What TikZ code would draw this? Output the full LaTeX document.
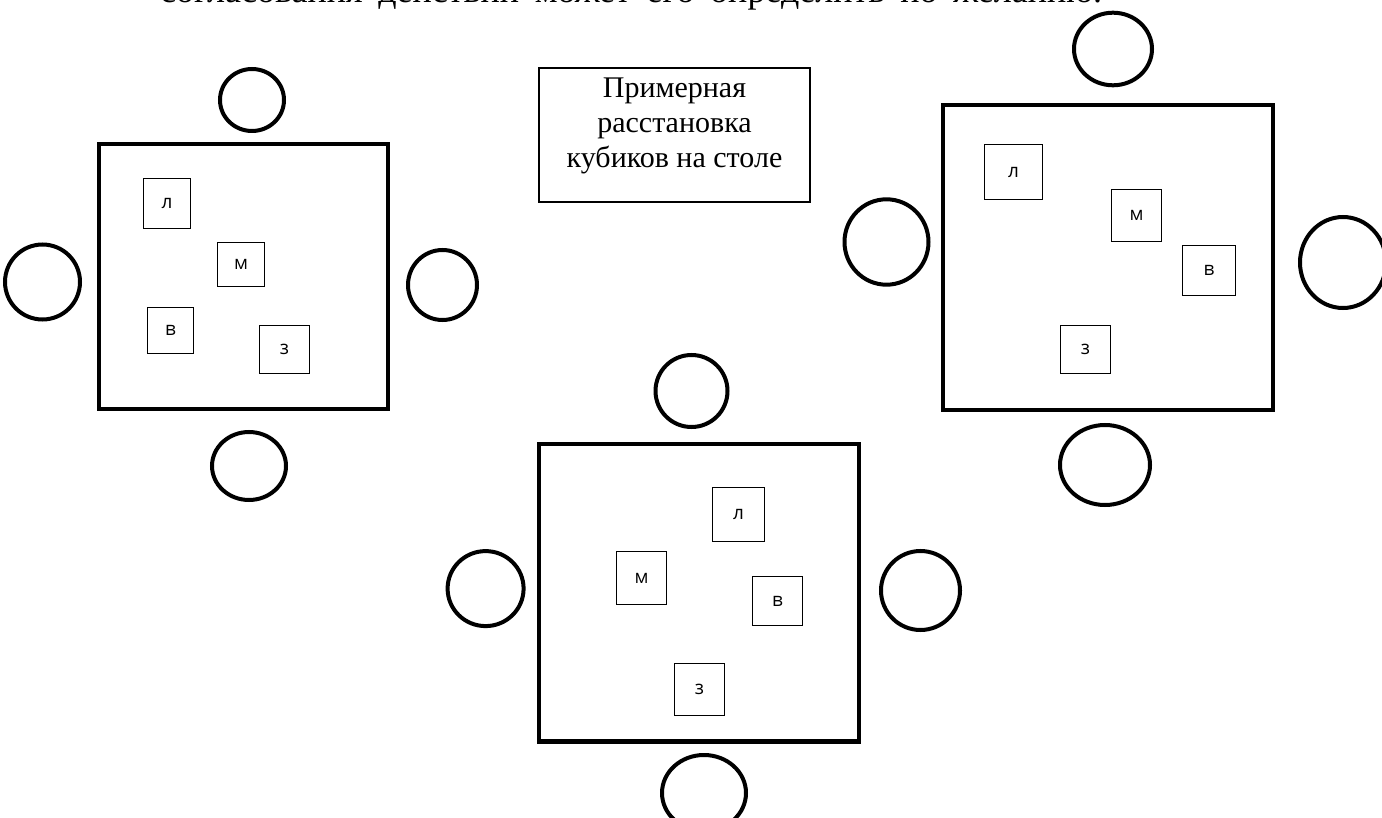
\documentclass[tikz,border=0pt]{standalone}
\usepackage{fontspec}
\setmainfont{Liberation Serif}
\newfontfamily\cubefont{Open Sans}
\usetikzlibrary{shapes.geometric}

\begin{document}
\begin{tikzpicture}[x=1pt, y=-1pt,
    table/.style = {draw, line width=4.5pt, inner sep=0pt},
    cube/.style = {draw, line width=1.2pt, inner sep=0pt, font=\cubefont\fontsize{19}{22}\selectfont},
    chair/.style = {draw, ellipse, line width=4pt, inner sep=0pt}]

    \useasboundingbox (0,0) rectangle (1382,818);
    \clip (0,0) rectangle (1382,818);

    % last line of the text above, cut by the page
    \node[anchor=base west, inner sep=0pt, font=\fontsize{36}{42}\selectfont] (prev) at (160,2.5)
        {\makebox[942pt][s]{согласования действий может его определить по желанию.}};

    \node[draw, line width=1.3pt, minimum width=271pt, minimum height=134pt] (capt) at (674.5,135) {};
    \node[align=center, font=\fontsize{30}{35}\selectfont] (capttext) at (674.5,126)
        {Примерная\\расстановка\\кубиков на столе};

    % first table
    \node[table, minimum width=289pt, minimum height=265pt] (A) at (243.5,276.5) {};
    \node[cube, minimum width=47pt, minimum height=50pt] (Al) at (167,203.5) {л};
    \node[cube, minimum width=47pt, minimum height=44pt] (Am) at (241,264.5) {м};
    \node[cube, minimum width=46pt, minimum height=46pt] (Av) at (170.5,330.5) {в};
    \node[cube, minimum width=50pt, minimum height=48pt] (Az) at (284.5,349.5) {з};
    \node[chair, minimum width=64pt, minimum height=62pt] (An) at (252,100) {};
    \node[chair, minimum width=75pt, minimum height=75pt] (Aw) at (42.5,282) {};
    \node[chair, minimum width=69pt, minimum height=70pt] (Ae) at (442.5,285) {};
    \node[chair, minimum width=74pt, minimum height=68pt] (As) at (249,466) {};

    % second table
    \node[table, minimum width=320pt, minimum height=297.5pt] (B) at (699,592.75) {};
    \node[cube, minimum width=52pt, minimum height=54pt] (Bl) at (738.5,514.5) {л};
    \node[cube, minimum width=50pt, minimum height=53.5pt] (Bm) at (641.5,578) {м};
    \node[cube, minimum width=50pt, minimum height=49.5pt] (Bv) at (777.5,601) {в};
    \node[cube, minimum width=50pt, minimum height=52pt] (Bz) at (699.5,689.5) {з};
    \node[chair, minimum width=72pt, minimum height=72pt] (Bn) at (691.5,391) {};
    \node[chair, minimum width=76pt, minimum height=75pt] (Bw) at (485.6,588.6) {};
    \node[chair, minimum width=79pt, minimum height=79pt] (Be) at (920.5,590.5) {};
    \node[chair, minimum width=84pt, minimum height=76pt] (Bs) at (704,793) {};

    % third table
    \node[table, minimum width=330pt, minimum height=305pt] (C) at (1108,257.5) {};
    \node[cube, minimum width=58pt, minimum height=55pt] (Cl) at (1013.5,172) {л};
    \node[cube, minimum width=50pt, minimum height=52pt] (Cm) at (1136.5,215.5) {м};
    \node[cube, minimum width=53pt, minimum height=50pt] (Cv) at (1209,270.5) {в};
    \node[cube, minimum width=50pt, minimum height=48pt] (Cz) at (1085.5,349.5) {з};
    \node[chair, minimum width=78pt, minimum height=72.6pt] (Cn) at (1113,49) {};
    \node[chair, minimum width=84pt, minimum height=85.4pt] (Cw) at (886.5,242) {};
    \node[chair, minimum width=86pt, minimum height=91pt] (Ce) at (1343,262.5) {};
    \node[chair, minimum width=90pt, minimum height=80pt] (Cs) at (1105,465) {};

\end{tikzpicture}
\end{document}
